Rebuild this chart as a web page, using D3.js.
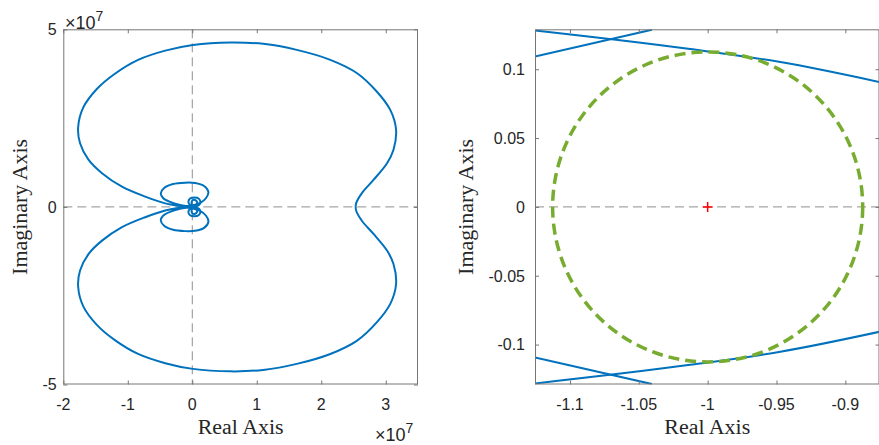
<!DOCTYPE html>
<html>
<head>
<meta charset="utf-8">
<script src="https://cdn.jsdelivr.net/npm/d3@7"></script>
<style>
  html, body { margin: 0; padding: 0; background: #fff; }
  svg { display: block; }
  .tick-label { font-family: "Liberation Sans", Arial, sans-serif; font-size: 16px; fill: #262626; }
  .axis-title { font-family: "Liberation Serif", "Times New Roman", serif; font-size: 20px; fill: #262626; }
</style>
</head>
<body>
<svg id="chart" width="879" height="445"></svg>
<script>
// ---- Nyquist curve, positive-frequency branch (values in units of 1e7) ----
// runs from the real-axis crossing, around the upper lobe, into the loops at the origin
const nyqRe = [2.535, 2.54, 2.63, 2.81, 3.02, 3.12, 3.16, 3.07, 2.86, 2.55, 2.14, 1.62, 1.10, 0.59, 0.01,
  -0.42, -0.84, -1.20, -1.48, -1.69, -1.77, -1.74, -1.61, -1.40, -1.09, -0.73, -0.42, -0.22,
  -0.065, 0.121, 0.214, 0.25, 0.183, 0.043, -0.112, -0.298, -0.437, -0.488, -0.453, -0.344, -0.189, -0.065,
  0.028, 0.105, 0.126, 0.098, 0.033, -0.034, -0.06, -0.034, 0.02,
  0.067, 0.074, 0.043, 0.005, -0.011, 0.0];
const nyqIm = [0.0, 0.10, 0.39, 0.76, 1.23, 1.61, 2.17, 2.73, 3.25, 3.77, 4.14, 4.42, 4.59, 4.63, 4.56,
  4.40, 4.14, 3.75, 3.32, 2.80, 2.24, 1.79, 1.33, 0.95, 0.57, 0.29, 0.10, 0.03,
  0.025, 0.11, 0.25, 0.42, 0.59, 0.673, 0.682, 0.645, 0.532, 0.383, 0.25, 0.138, 0.054, 0.017,
  0.011, 0.054, 0.138, 0.237, 0.265, 0.237, 0.138, 0.054, 0.04,
  0.082, 0.138, 0.194, 0.186, 0.124, 0.0];

// ---- Curve segments passing near the critical point (-1, 0), real units ----
const segARe = [-1.1254, -1.0127, -0.9472, -0.8752];
const segAIm = [0.1282, 0.1147, 0.1052, 0.0907];
const segBRe = [-1.1254, -1.0405];
const segBIm = [0.1093, 0.1287];

// ---- Circle around the critical point ----
const circleCenter = [-1, 0];
const circleRadius = [0.1126];

// ---- Axis ranges and ticks ----
const xDomainL = [-2, 3.5], yDomainL = [-5, 5];
const xTicksL = [-2, -1, 0, 1, 2, 3], xTickLabelsL = ["-2", "-1", "0", "1", "2", "3"];
const yTicksL = [-5, 0, 5], yTickLabelsL = ["-5", "0", "5"];
const xDomainR = [-1.1254, -0.8752], yDomainR = [-0.129, 0.129];
const xTicksR = [-1.1, -1.05, -1, -0.95, -0.9], xTickLabelsR = ["-1.1", "-1.05", "-1", "-0.95", "-0.9"];
const yTicksR = [-0.1, -0.05, 0, 0.05, 0.1], yTickLabelsR = ["-0.1", "-0.05", "0", "0.05", "0.1"];

const BLUE = "#0072BD", GREEN = "#77AC30", RED = "#FF0000", ZERO = "#8f8f8f", AX = "#767676";

const svg = d3.select("#chart");

function panel(opt) {
  const { id, x0, x1, y0, y1, xDomain, yDomain, xTicks, xLabels, yTicks, yLabels, yLabelGap, yTitleX } = opt;
  const x = d3.scaleLinear().domain(xDomain).range([x0, x1]);
  const y = d3.scaleLinear().domain(yDomain).range([y1, y0]);
  const g = svg.append("g");

  g.append("clipPath").attr("id", id).append("rect")
    .attr("x", x0).attr("y", y0).attr("width", x1 - x0).attr("height", y1 - y0);
  const plot = g.append("g").attr("clip-path", `url(#${id})`);

  // zero lines
  plot.append("line").attr("x1", x0).attr("x2", x1).attr("y1", y(0)).attr("y2", y(0))
    .attr("stroke", ZERO).attr("stroke-width", 1).attr("stroke-dasharray", "9,5");
  if (xDomain[0] < 0 && xDomain[1] > 0) {
    plot.append("line").attr("y1", y0).attr("y2", y1).attr("x1", x(0)).attr("x2", x(0))
      .attr("stroke", ZERO).attr("stroke-width", 1).attr("stroke-dasharray", "9,5");
  }

  // axes via d3 axis generators, ticks inward on all four sides
  const tl = 4;
  const mk = (gen, tx, ty) => g.append("g").attr("transform", `translate(${tx},${ty})`).call(gen)
    .call(s => { s.selectAll("text").remove(); s.select(".domain").remove();
                 s.selectAll("line").attr("stroke", AX); });
  mk(d3.axisBottom(x).tickValues(xTicks).tickSize(-tl), 0, y1);
  mk(d3.axisTop(x).tickValues(xTicks).tickSize(-tl), 0, y0);
  mk(d3.axisLeft(y).tickValues(yTicks).tickSize(-tl), x0, 0);
  mk(d3.axisRight(y).tickValues(yTicks).tickSize(-tl), x1, 0);
  g.append("rect").attr("x", x0 + 0.5).attr("y", y0 + 0.5).attr("width", x1 - x0 - 1).attr("height", y1 - y0 - 1)
    .attr("fill", "none").attr("stroke", AX).attr("stroke-width", 1);

  // tick labels
  xTicks.forEach((v, i) => g.append("text").attr("class", "tick-label")
    .attr("x", x(v)).attr("y", 410).attr("text-anchor", "middle").text(xLabels[i]));
  yTicks.forEach((v, i) => g.append("text").attr("class", "tick-label")
    .attr("x", x0 - yLabelGap).attr("y", y(v) + 5.8).attr("text-anchor", "end").text(yLabels[i]));

  // titles
  g.append("text").attr("class", "axis-title").attr("x", (x0 + x1) / 2).attr("y", 434)
    .attr("text-anchor", "middle").attr("textLength", 86).attr("lengthAdjust", "spacingAndGlyphs").text("Real Axis");
  g.append("text").attr("class", "axis-title")
    .attr("transform", `translate(${yTitleX},${(y0 + y1) / 2}) rotate(-90)`)
    .attr("text-anchor", "middle").attr("textLength", 136).attr("lengthAdjust", "spacingAndGlyphs").text("Imaginary Axis");

  return { x, y, plot };
}

// ---------- left panel: full Nyquist diagram ----------
const L = panel({ id: "clipL", x0: 63.3, x1: 418, y0: 29.3, y1: 384.5,
  xDomain: xDomainL, yDomain: yDomainL, xTicks: xTicksL, xLabels: xTickLabelsL,
  yTicks: yTicksL, yLabels: yTickLabelsL, yLabelGap: 6.6, yTitleX: 27 });

const upper = nyqRe.map((r, i) => [r, nyqIm[i]]);
const lower = upper.map(([r, im]) => [r, -im]);   // negative frequencies: complex conjugate
const lineL = d3.line().x(d => L.x(d[0])).y(d => L.y(d[1])).curve(d3.curveCatmullRom.alpha(0.5));
[upper, lower].forEach(pts => L.plot.append("path").attr("d", lineL(pts))
  .attr("fill", "none").attr("stroke", BLUE).attr("stroke-width", 2).attr("stroke-linejoin", "round"));

// exponent labels
function expLabel(xp, yp) {
  const t = svg.append("text").attr("x", xp).attr("y", yp)
    .attr("font-family", "Liberation Sans, Arial, sans-serif").attr("font-size", 18).attr("fill", "#262626");
  t.append("tspan").text("\u00D710");
  t.append("tspan").attr("dy", -8).attr("font-size", 14).text("7");
}
expLabel(65, 28.5);
expLabel(375, 441);

// ---------- right panel: zoom around (-1, 0) ----------
const R = panel({ id: "clipR", x0: 535, x1: 879.5, y0: 29.3, y1: 384.5,
  xDomain: xDomainR, yDomain: yDomainR, xTicks: xTicksR, xLabels: xTickLabelsR,
  yTicks: yTicksR, yLabels: yTickLabelsR, yLabelGap: 10, yTitleX: 473 });

const lineR = d3.line().x(d => R.x(d[0])).y(d => R.y(d[1])).curve(d3.curveMonotoneX);
const segA = segARe.map((r, i) => [r, segAIm[i]]);
const segB = segBRe.map((r, i) => [r, segBIm[i]]);
[segA, segB, segA.map(([r, im]) => [r, -im]), segB.map(([r, im]) => [r, -im])].forEach(pts =>
  R.plot.append("path").attr("d", lineR(pts)).attr("fill", "none")
    .attr("stroke", BLUE).attr("stroke-width", 2));

// dashed circle
R.plot.append("ellipse")
  .attr("cx", R.x(circleCenter[0])).attr("cy", R.y(circleCenter[1]))
  .attr("rx", R.x(circleCenter[0] + circleRadius[0]) - R.x(circleCenter[0]))
  .attr("ry", R.y(circleCenter[1]) - R.y(circleCenter[1] + circleRadius[0]))
  .attr("fill", "none").attr("stroke", GREEN).attr("stroke-width", 3.5).attr("stroke-dasharray", "11,6");

// critical point marker
const cx = R.x(-1), cy = R.y(0);
R.plot.append("path").attr("d", `M${cx - 5},${cy}H${cx + 5}M${cx},${cy - 5}V${cy + 5}`)
  .attr("stroke", RED).attr("stroke-width", 1.5);
</script>
</body>
</html>
